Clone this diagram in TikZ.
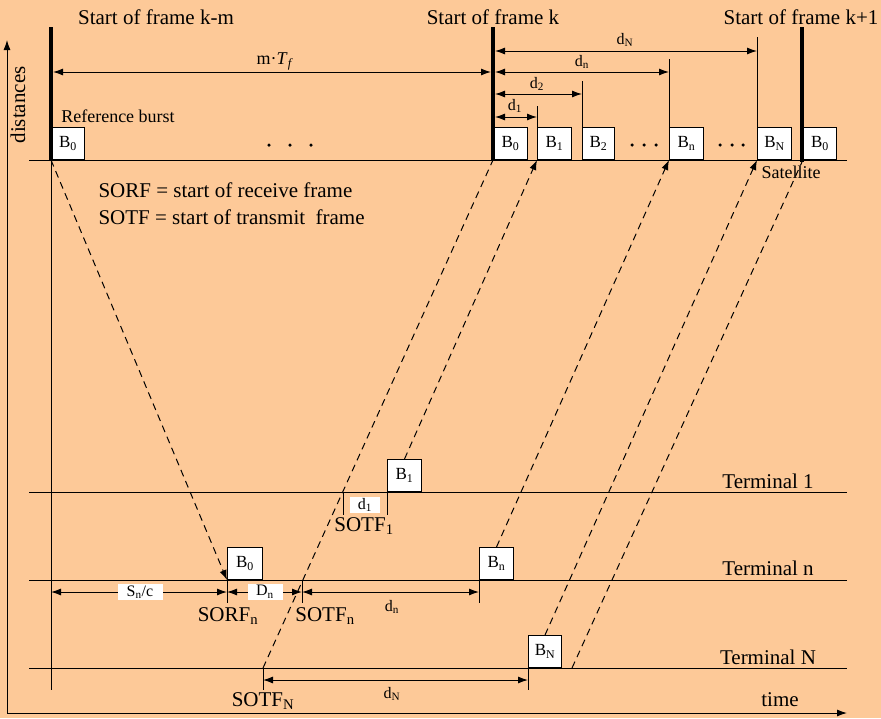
\documentclass[tikz,border=0pt]{standalone}
\usepackage{fontspec}
\setmainfont{Liberation Serif}
\usetikzlibrary{arrows.meta}
\definecolor{peach}{RGB}{253,201,152}
\begin{document}
\begin{tikzpicture}[x=1pt,y=-1pt,line width=1pt,
  >={Latex[length=10pt,width=7pt]},
  lbl/.style={inner sep=0pt,font=\fontsize{21}{24}\selectfont},
  slbl/.style={inner sep=0pt,font=\fontsize{18}{20}\selectfont},
  small/.style={inner sep=0pt,font=\fontsize{16}{18}\selectfont},
  burst/.style={draw,fill=white,anchor=south west,minimum width=#1,minimum height=32pt,inner sep=0pt,font=\fontsize{17}{19}\selectfont},
  burst/.default=33pt,
  whitelbl/.style={fill=white,inner sep=1pt,minimum height=15pt,font=\fontsize{16}{18}\selectfont},
  dim/.style={<->},
  sig/.style={dash pattern=on 7pt off 5pt},
  framebar/.style={line width=4pt},
  bulletdot/.style={circle,fill=black,inner sep=0pt,minimum size=3.5pt}]

\fill[peach] (0,0) rectangle (881,718);
\useasboundingbox (0,0) rectangle (881,718);

% axes
\coordinate (origin) at (7,713);
\coordinate (ytip) at (7,40);
\coordinate (xtip) at (847,713);
\draw[->] (origin) -- (ytip);
\draw[->] (origin) -- (xtip);
\node[lbl,rotate=90] (distlbl) at (18,105) {distances};
\node[lbl] (timelbl) at (780,700) {time};

% horizontal lines
\coordinate (satW) at (29,160); \coordinate (satE) at (847,160);
\coordinate (t1W) at (29,492); \coordinate (t1E) at (847,492);
\coordinate (tnW) at (29,580); \coordinate (tnE) at (847,580);
\coordinate (tNW) at (29,668); \coordinate (tNE) at (847,668);
\draw (satW) -- (satE);
\draw (t1W) -- (t1E);
\draw (tnW) -- (tnE);
\draw (tNW) -- (tNE);

% satellite bursts
\node[burst] (sRef) at (51,160) {B\textsubscript{0}};
\node[burst=34pt] (sB0) at (493,160) {B\textsubscript{0}};
\node[burst=34pt] (sB1) at (537,160) {B\textsubscript{1}};
\node[burst=32pt] (sB2) at (582,160) {B\textsubscript{2}};
\node[burst=34pt] (sBn) at (669,160) {B\textsubscript{n}};
\node[burst=34pt] (sBN) at (757,160) {B\textsubscript{N}};
\node[burst=33pt] (sB0b) at (803,160) {B\textsubscript{0}};

% frame bars
\coordinate (kmTop) at (51,27); \coordinate (kmBot) at (51,160);
\coordinate (kTop) at (493,27); \coordinate (kBot) at (493,160);
\coordinate (k1Top) at (802,27); \coordinate (k1Bot) at (802,162);
\draw[framebar] (kmTop) -- (kmBot);
\draw[framebar] (kTop) -- (kBot);
\draw[framebar] (k1Top) -- (k1Bot);
\coordinate (refFoot) at (51,690);
\draw (kmBot) -- (refFoot);

% d markers
\coordinate (d1top) at (537,106); \draw (sB1.north west) -- (d1top);
\coordinate (d2top) at (582,81); \draw (sB2.north west) -- (d2top);
\coordinate (dntop) at (669,59); \draw (sBn.north west) -- (dntop);
\coordinate (dNtop) at (757,37); \draw (sBN.north west) -- (dNtop);

\coordinate (d1a) at (495,117); \coordinate (d1b) at (537,117);
\coordinate (d2a) at (495,94); \coordinate (d2b) at (582,94);
\coordinate (dna) at (495,72); \coordinate (dnb) at (669,72);
\coordinate (dNa) at (495,51); \coordinate (dNb) at (757,51);
\coordinate (mTa) at (53,72); \coordinate (mTb) at (491,72);
\draw[dim] (d1a) -- (d1b);
\draw[dim] (d2a) -- (d2b);
\draw[dim] (dna) -- (dnb);
\draw[dim] (dNa) -- (dNb);
\draw[dim] (mTa) -- (mTb);

\node[slbl] (mTfl) at (275,61) {m·\textit{T}\textsubscript{\textit{f}}};
\node[small] (d1l) at (515,106) {d\textsubscript{1}};
\node[small] (d2l) at (537,84) {d\textsubscript{2}};
\node[small] (dnl0) at (582,62) {d\textsubscript{n}};
\node[small] (dNl0) at (625,40) {d\textsubscript{N}};

% dots
\foreach \x [count=\i] in {269,290,311} \node[bulletdot] (dA\i) at (\x,145) {};
\foreach \x [count=\i] in {632,644,656} \node[bulletdot] (dB\i) at (\x,145) {};
\foreach \x [count=\i] in {720,732,743} \node[bulletdot] (dC\i) at (\x,145) {};

% titles and texts
\node[lbl] (tkm) at (156,17) {Start of frame k-m};
\node[lbl] (tk) at (493,17) {Start of frame k};
\node[lbl] (tk1) at (801,17) {Start of frame k+1};
\node[slbl] (refl) at (118,116) {Reference burst};
\node[lbl,anchor=west] (sorfdef) at (98,190) {SORF = start of receive frame};
\node[lbl,anchor=west] (sotfdef) at (98,217) {SOTF = start of transmit\ \ frame};
\node[slbl] (satl) at (791,172) {Satellite};
\node[lbl] (term1) at (768,481) {Terminal 1};
\node[lbl] (termn) at (768,568) {Terminal n};
\node[lbl] (termN) at (768,657) {Terminal N};

% terminal 1
\node[burst=34pt] (t1B1) at (387,492) {B\textsubscript{1}};
\coordinate (sotf1) at (343,492); \coordinate (sotf1f) at (343,515);
\draw (sotf1) -- (sotf1f);
\coordinate (t1B1f) at (387,515);
\draw (t1B1.south west) -- (t1B1f);
\node[whitelbl,minimum width=30pt] (d1t) at (365,505) {d\textsubscript{1}};
\node[lbl] (sotf1l) at (364,526) {SOTF\textsubscript{1}};

% terminal n
\node[burst=35pt] (tnB0) at (227,580) {B\textsubscript{0}};
\node[burst=34pt] (tnBn) at (479,580) {B\textsubscript{n}};
\coordinate (sorfn) at (227,603); \draw (tnB0.south west) -- (sorfn);
\coordinate (sotfn) at (302,580); \coordinate (sotfnf) at (302,603);
\draw (sotfn) -- (sotfnf);
\coordinate (tnBnf) at (479,603); \draw (tnBn.south west) -- (tnBnf);
\coordinate (a0) at (51,592); \coordinate (a1) at (227,592);
\coordinate (a2) at (302,592); \coordinate (a3) at (479,592);
\draw[dim] (a0) -- (a1);
\draw[dim] (a1) -- (a2);
\draw[dim] (a2) -- (a3);
\node[whitelbl,minimum width=45pt] (snc) at (140,592) {S\textsubscript{n}/c};
\node[whitelbl,minimum width=35pt] (Dnl) at (265,592) {D\textsubscript{n}};
\node[small] (dnl) at (392,607) {d\textsubscript{n}};
\node[lbl] (sorfl) at (228,616) {SORF\textsubscript{n}};
\node[lbl] (sotfnl) at (325,616) {SOTF\textsubscript{n}};

% terminal N
\node[burst=33pt] (tNBN) at (528,668) {B\textsubscript{N}};
\coordinate (sotfN) at (263,668); \coordinate (sotfNf) at (263,690);
\draw (sotfN) -- (sotfNf);
\coordinate (tNBNf) at (528,690); \draw (tNBN.south west) -- (tNBNf);
\coordinate (b0) at (263,680); \coordinate (b1) at (528,680);
\draw[dim] (b0) -- (b1);
\node[small] (dNl) at (392,694) {d\textsubscript{N}};
\node[lbl] (sotfNl) at (263,701) {SOTF\textsubscript{N}};

% signal paths
\draw[sig,->] (kmBot) -- (tnB0.south west);
\draw[sig] (sotfN) -- (kBot);
\draw[sig,->] (t1B1.north) -- (sB1.south west);
\draw[sig,->] (tnBn.north) -- (sBn.south west);
\draw[sig,->] (tNBN.north) -- (sBN.south west);
\coordinate (tNafter) at (572,668);
\draw[sig] (tNafter) -- (k1Bot);
\end{tikzpicture}
\end{document}
